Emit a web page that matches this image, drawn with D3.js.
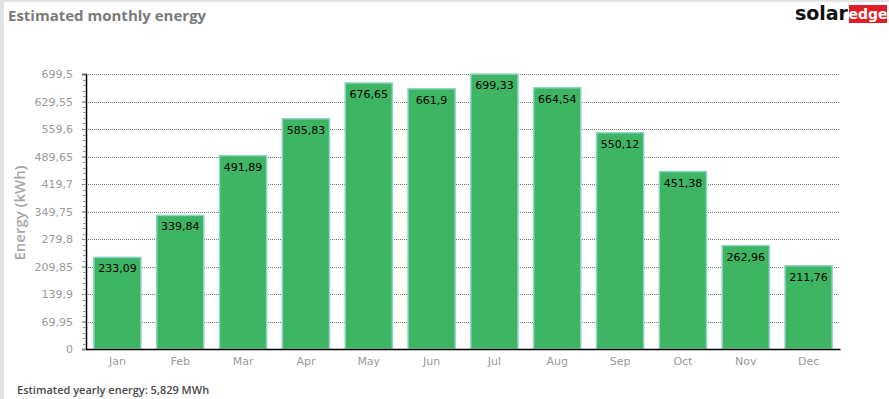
<!DOCTYPE html>
<html>
<head>
<meta charset="utf-8">
<script src="https://cdn.jsdelivr.net/npm/d3@7"></script>
<style>
  body { margin: 0; background: #fff; }
  svg { display: block; }
</style>
</head>
<body>
<script>
// DATA
const months = ["Jan", "Feb", "Mar", "Apr", "May", "Jun", "Jul", "Aug", "Sep", "Oct", "Nov", "Dec"];
const energy = [233.09, 339.84, 491.89, 585.83, 676.65, 661.9, 699.33, 664.54, 550.12, 451.38, 262.96, 211.76];
const tickValues = [0, 69.95, 139.9, 209.85, 279.8, 349.75, 419.7, 489.65, 559.6, 629.55, 699.5];
const titleText = "Estimated monthly energy";
const footerText = "Estimated yearly energy: 5,829 MWh";

// CONSTANTS
const width = 889, height = 399;
const plotLeft = 86, plotRight = 840, plotTop = 74, plotBottom = 349;
const numFont = "'DejaVu Sans', Verdana, sans-serif";
const textFont = "'Open Sans', 'Noto Sans', sans-serif";

// comma decimals like the original
const fmt = v => String(v).replace(".", ",");

const svg = d3.select("body").append("svg")
    .attr("width", width)
    .attr("height", height);

// frame strips on left and top
svg.append("rect").attr("x", 0).attr("y", 0).attr("width", width).attr("height", 2).attr("fill", "#e3e3e3");
svg.append("rect").attr("x", 0).attr("y", 0).attr("width", 4).attr("height", height).attr("fill", "#e3e3e3");

// title
svg.append("text")
    .attr("x", 8).attr("y", 21)
    .attr("font-family", textFont).attr("font-weight", 700).attr("font-size", 15)
    .attr("fill", "#7a7a7a")
    .text(titleText);

// logo
const logo = svg.append("g");
logo.append("text")
    .attr("x", 848).attr("y", 20)
    .attr("text-anchor", "end")
    .attr("font-family", numFont).attr("font-weight", 700).attr("font-size", 19)
    .attr("fill", "#111")
    .text("solar");
logo.append("rect").attr("x", 849).attr("y", 5).attr("width", 38).attr("height", 18).attr("fill", "#e31d25");
logo.append("text")
    .attr("x", 868).attr("y", 19)
    .attr("text-anchor", "middle")
    .attr("font-family", numFont).attr("font-weight", 700).attr("font-size", 14)
    .attr("fill", "#fff")
    .text("edge");

// scales
const x = d3.scaleBand()
    .domain(months)
    .range([plotLeft, plotRight])
    .paddingInner(0.25)
    .paddingOuter(0.125);

const y = d3.scaleLinear()
    .domain([0, 699.5])
    .range([plotBottom, plotTop]);

// grid lines
svg.append("g")
    .selectAll("line")
    .data(tickValues.slice(1))
    .enter()
    .append("line")
    .attr("x1", plotLeft).attr("x2", plotRight)
    .attr("y1", d => Math.round(y(d)) + 0.5).attr("y2", d => Math.round(y(d)) + 0.5)
    .attr("stroke", "#777")
    .attr("stroke-dasharray", "1,1");

// bars
svg.append("g")
    .selectAll("rect")
    .data(energy)
    .enter()
    .append("rect")
    .attr("x", (d, i) => x(months[i]))
    .attr("y", d => y(d))
    .attr("width", x.bandwidth())
    .attr("height", d => plotBottom - y(d))
    .attr("fill", "#3db562")
    .attr("stroke", "#8dd5c8")
    .attr("stroke-width", 1.5);

// value labels
svg.append("g")
    .selectAll("text")
    .data(energy)
    .enter()
    .append("text")
    .attr("x", (d, i) => x(months[i]) + x.bandwidth() / 2)
    .attr("y", d => y(d) + 15)
    .attr("text-anchor", "middle")
    .attr("font-family", numFont).attr("font-size", 11)
    .attr("fill", "#000")
    .text(d => fmt(d));

// y axis
const yAxis = svg.append("g")
    .attr("transform", `translate(${plotLeft},0)`)
    .call(d3.axisLeft(y).tickValues(tickValues).tickFormat(fmt).tickSize(4).tickPadding(9));

// minor ticks
const minor = d3.range(0, 50).map(i => i * 699.5 / 50);
svg.append("g")
    .selectAll("line")
    .data(minor)
    .enter()
    .append("line")
    .attr("x1", plotLeft - 3).attr("x2", plotLeft)
    .attr("y1", d => Math.round(y(d)) + 0.5).attr("y2", d => Math.round(y(d)) + 0.5)
    .attr("stroke", "#999");

yAxis.select(".domain").attr("stroke", "#000").attr("stroke-width", 1.5);
yAxis.selectAll(".tick line").attr("stroke", "#666");
yAxis.selectAll(".tick text")
    .attr("font-family", numFont).attr("font-size", 11)
    .attr("fill", "#9a9a9a");

// x axis
const xAxis = svg.append("g")
    .attr("transform", `translate(0,${plotBottom})`)
    .call(d3.axisBottom(x).tickSize(0).tickPadding(8));

xAxis.select(".domain").attr("stroke", "#000").attr("stroke-width", 1.5);
xAxis.selectAll(".tick text")
    .attr("font-family", numFont).attr("font-size", 11)
    .attr("fill", "#9a9a9a");

// y label
svg.append("text")
    .attr("transform", `translate(25,213) rotate(-90)`)
    .attr("text-anchor", "middle")
    .attr("font-family", textFont).attr("font-weight", 600).attr("font-size", 15)
    .attr("fill", "#a8a8a8")
    .text("Energy (kWh)");

// footer
svg.append("text")
    .attr("x", 17).attr("y", 394)
    .attr("font-family", textFont).attr("font-weight", 600).attr("font-size", 11)
    .attr("fill", "#4a4a4a")
    .text(footerText);
</script>
</body>
</html>
